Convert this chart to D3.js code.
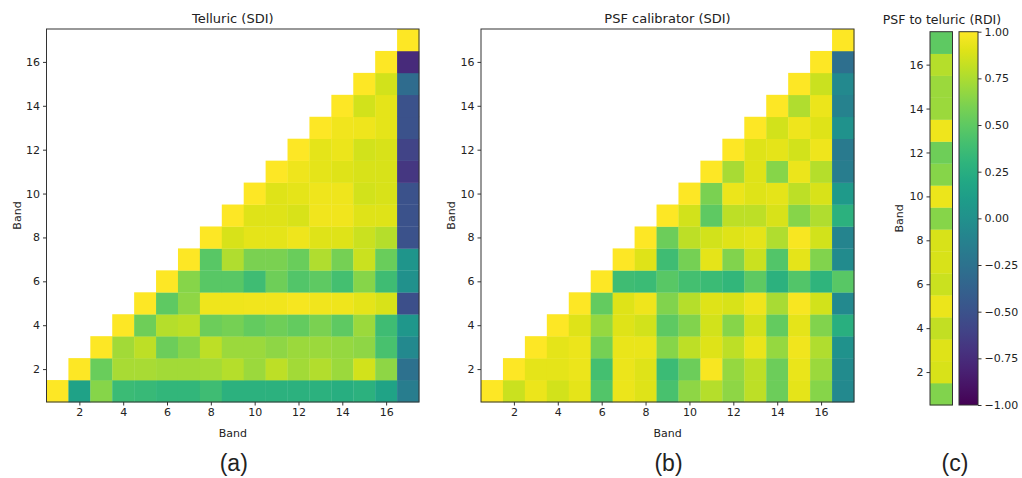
<!DOCTYPE html>
<html><head><meta charset="utf-8">
<script src="https://cdn.jsdelivr.net/npm/d3@7"></script>
<style>body{margin:0;background:#fff}svg{display:block}text{font-family:"DejaVu Sans",sans-serif;fill:#222}</style>
</head><body><svg id="c" width="1022" height="478"></svg>
<script>
const bands = d3.range(1, 18);
const bandTicks = [2,4,6,8,10,12,14,16];
const cbarTicks = [-1,-0.75,-0.5,-0.25,0,0.25,0.5,0.75,1];
// each row: band y (1..17), values for columns x = y..17
const telluric = [
 [1,0.15,0.64,0.36,0.35,0.32,0.32,0.38,0.28,0.28,0.28,0.28,0.28,0.25,0.28,0.16,-0.16],
 [1,0.54,0.74,0.74,0.72,0.72,0.73,0.78,0.70,0.80,0.72,0.77,0.70,0.86,0.66,-0.26],
 [1,0.72,0.80,0.55,0.64,0.80,0.70,0.70,0.66,0.70,0.70,0.68,0.66,0.42,-0.06],
 [1,0.56,0.78,0.80,0.55,0.58,0.52,0.56,0.52,0.60,0.50,0.70,0.38,0.06],
 [1,0.50,0.66,0.95,0.95,0.96,0.96,0.97,0.96,0.95,0.92,0.88,-0.52],
 [1,0.64,0.48,0.48,0.38,0.56,0.46,0.50,0.40,0.64,0.38,0.0],
 [1,0.48,0.76,0.60,0.60,0.54,0.76,0.58,0.84,0.54,0.04],
 [1,0.88,0.92,0.92,0.95,0.90,0.90,0.84,0.78,-0.50],
 [1,0.90,0.90,0.88,0.96,0.96,0.90,0.90,-0.50],
 [1,0.90,0.92,0.95,0.95,0.86,0.88,-0.50],
 [1,0.95,0.92,0.90,0.88,0.88,-0.68],
 [1,0.92,0.94,0.86,0.88,-0.60],
 [1,0.96,0.95,0.92,-0.50],
 [1,0.86,0.92,-0.50],
 [1,0.86,-0.30],
 [1,-0.76],
 [1]
];
const psfCal = [
 [1,0.84,0.94,0.86,0.92,0.46,0.94,0.90,0.42,0.66,0.78,0.66,0.80,0.55,0.92,0.64,-0.06],
 [1,0.92,0.92,0.94,0.40,0.94,0.90,0.36,0.55,0.98,0.68,0.80,0.55,0.93,0.70,-0.04],
 [1,0.92,0.94,0.58,0.93,0.93,0.64,0.80,0.90,0.80,0.93,0.68,0.96,0.76,0.02],
 [1,0.90,0.68,0.90,0.86,0.50,0.62,0.86,0.64,0.86,0.52,0.92,0.62,0.26],
 [1,0.52,0.90,0.95,0.62,0.78,0.90,0.88,0.95,0.74,0.98,0.86,-0.06],
 [1,0.38,0.36,0.48,0.40,0.36,0.32,0.50,0.28,0.46,0.30,0.48],
 [1,0.90,0.38,0.58,0.92,0.62,0.84,0.46,0.92,0.62,-0.04],
 [1,0.55,0.80,0.86,0.90,0.92,0.76,0.98,0.86,-0.10],
 [1,0.86,0.50,0.80,0.80,0.88,0.64,0.76,0.28],
 [1,0.60,0.94,0.90,0.92,0.80,0.88,0.08],
 [1,0.74,0.90,0.64,0.94,0.78,-0.16],
 [1,0.90,0.92,0.86,0.95,-0.18],
 [1,0.86,0.95,0.90,0.02],
 [1,0.76,0.94,-0.12],
 [1,0.84,-0.06],
 [1,-0.28],
 [1]
];
const psfToTelluric = [0.62,0.88,0.90,0.82,0.94,0.84,0.88,0.88,0.64,0.94,0.64,0.56,0.95,0.70,0.70,0.78,0.50];

const svg = d3.select("#c");
const color = d3.scaleSequential(d3.interpolateViridis).domain([-1, 1]);
const frame = "#333";

function styleAxis(g){
  g.select(".domain").remove();
  g.selectAll(".tick line").attr("stroke", frame);
  g.selectAll(".tick text").attr("font-size", 11).attr("fill", "#222");
}

function matrixPanel(data, box, title, letter){
  const g = svg.append("g");
  const x = d3.scaleLinear().domain([0.5, 17.5]).range([box.x0, box.x1]);
  const y = d3.scaleLinear().domain([0.5, 17.5]).range([box.y1, box.y0]);
  const cells = [];
  data.forEach((row, i) => row.forEach((v, j) => cells.push({r: i + 1, c: i + 1 + j, v})));
  g.selectAll("rect.cell").data(cells).join("rect")
    .attr("x", d => x(d.c - 0.5)).attr("y", d => y(d.r + 0.5))
    .attr("width", d => x(d.c + 0.5) - x(d.c - 0.5) + 0.3)
    .attr("height", d => y(d.r - 0.5) - y(d.r + 0.5) + 0.3)
    .attr("fill", d => color(d.v));
  g.append("rect").attr("x", box.x0).attr("y", box.y0).attr("width", box.x1 - box.x0)
    .attr("height", box.y1 - box.y0).attr("fill", "none").attr("stroke", frame).attr("stroke-width", 1);
  g.append("g").attr("transform", `translate(0,${box.y1})`)
    .call(d3.axisBottom(x).tickValues(bandTicks).tickSize(3.5).tickPadding(3).tickFormat(d3.format("d"))).call(styleAxis);
  g.append("g").attr("transform", `translate(${box.x0},0)`)
    .call(d3.axisLeft(y).tickValues(bandTicks).tickSize(3.5).tickPadding(3).tickFormat(d3.format("d"))).call(styleAxis);
  const cx = (box.x0 + box.x1) / 2;
  g.append("text").attr("x", cx).attr("y", box.y0 - 6).attr("text-anchor", "middle").attr("font-size", 13).text(title);
  g.append("text").attr("x", cx).attr("y", box.y1 + 35).attr("text-anchor", "middle").attr("font-size", 11).text("Band");
  g.append("text").attr("transform", `translate(${box.x0 - 26},${(box.y0 + box.y1) / 2}) rotate(-90)`)
    .attr("text-anchor", "middle").attr("font-size", 11).text("Band");
  g.append("text").attr("x", cx + 1).attr("y", 471).attr("text-anchor", "middle")
    .style("font-family", "'Liberation Sans', Arial, sans-serif").attr("font-size", 23).text(letter);
}

matrixPanel(telluric, {x0: 46.5, x1: 419, y0: 29, y1: 402}, "Telluric (SDI)", "(a)");
matrixPanel(psfCal, {x0: 481, x1: 854, y0: 29, y1: 402}, "PSF calibrator (SDI)", "(b)");

// Panel c: single column
(function(){
  const box = {x0: 930, x1: 952.5, y0: 31.7, y1: 405};
  const g = svg.append("g");
  const y = d3.scaleLinear().domain([0.5, 17.5]).range([box.y1, box.y0]);
  g.selectAll("rect.cell").data(psfToTelluric.map((v, i) => ({b: bands[i], v}))).join("rect")
    .attr("x", box.x0).attr("width", box.x1 - box.x0)
    .attr("y", d => y(d.b + 0.5)).attr("height", d => y(d.b - 0.5) - y(d.b + 0.5) + 0.3)
    .attr("fill", d => color(d.v));
  g.append("rect").attr("x", box.x0).attr("y", box.y0).attr("width", box.x1 - box.x0)
    .attr("height", box.y1 - box.y0).attr("fill", "none").attr("stroke", frame);
  g.append("g").attr("transform", `translate(${box.x0},0)`)
    .call(d3.axisLeft(y).tickValues(bandTicks).tickSize(3.5).tickPadding(3).tickFormat(d3.format("d"))).call(styleAxis);
  g.append("text").attr("x", 942).attr("y", 23.5).attr("text-anchor", "middle").attr("font-size", 12.5).text("PSF to teluric (RDI)");
  g.append("text").attr("transform", `translate(903,${(box.y0 + box.y1) / 2}) rotate(-90)`)
    .attr("text-anchor", "middle").attr("font-size", 11).text("Band");
  g.append("text").attr("x", 955).attr("y", 471).attr("text-anchor", "middle")
    .style("font-family", "'Liberation Sans', Arial, sans-serif").attr("font-size", 23).text("(c)");

  // colorbar
  const cb = {x0: 959, x1: 978, y0: 31.7, y1: 405};
  const cy = d3.scaleLinear().domain([-1, 1]).range([cb.y1, cb.y0]);
  const defs = svg.append("defs");
  const grad = defs.append("linearGradient").attr("id", "vir").attr("x1", 0).attr("y1", 1).attr("x2", 0).attr("y2", 0);
  d3.range(0, 1.0001, 0.05).forEach(t => grad.append("stop").attr("offset", t).attr("stop-color", d3.interpolateViridis(t)));
  g.append("rect").attr("x", cb.x0).attr("y", cb.y0).attr("width", cb.x1 - cb.x0).attr("height", cb.y1 - cb.y0)
    .attr("fill", "url(#vir)").attr("stroke", frame);
  g.append("g").attr("transform", `translate(${cb.x1},0)`)
    .call(d3.axisRight(cy).tickValues(cbarTicks).tickSize(3.5).tickPadding(3)
      .tickFormat(d => (d < 0 ? "\u2212" : "") + Math.abs(d).toFixed(2))).call(styleAxis);
})();
</script></body></html>
